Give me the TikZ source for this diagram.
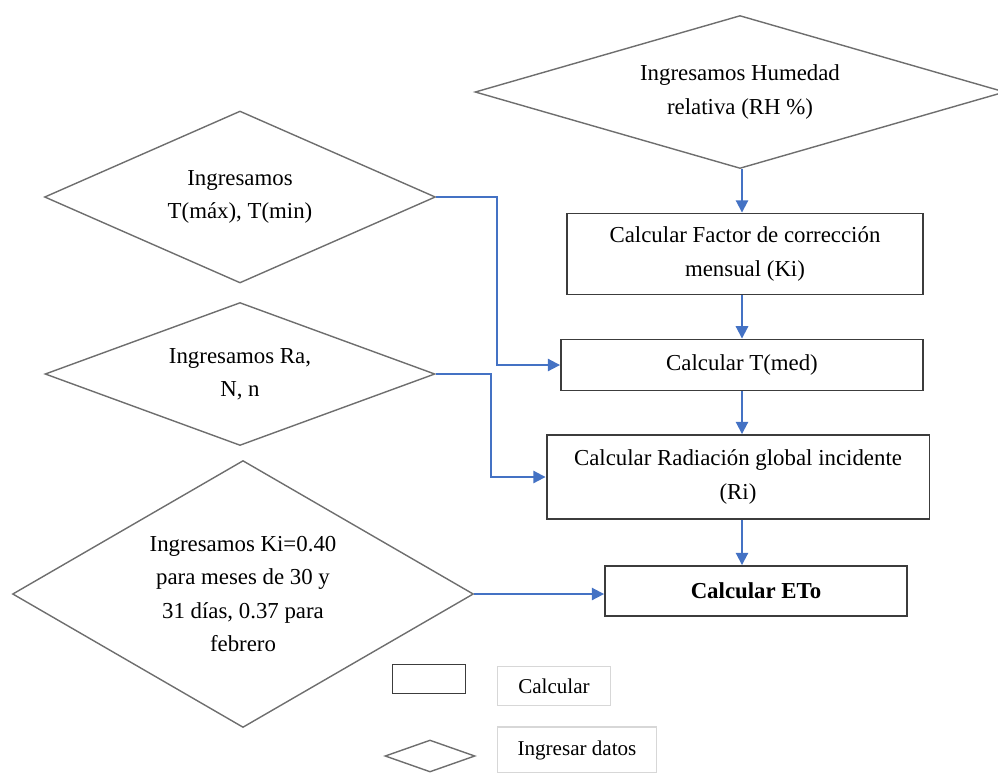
\documentclass[tikz,border=0pt]{standalone}
\usepackage{fontspec}
\setmainfont{Liberation Serif}
\usepackage{xcolor}
\usepackage{tikz}
\usetikzlibrary{arrows.meta, shapes.geometric, positioning}
\definecolor{flowblue}{RGB}{68, 114, 196}
\definecolor{boxgray}{RGB}{60, 60, 60}
\definecolor{diagray}{RGB}{110, 110, 110}
\definecolor{leggray}{RGB}{215, 215, 215}

\begin{document}
\begin{tikzpicture}[
    x=0.02cm, y=-0.02cm,
    box/.style    = {draw=boxgray, line width=1.1pt, align=center,
                     font=\fontsize{13}{19}\selectfont, inner sep=2pt},
    input/.style  = {diamond, draw=diagray, line width=0.8pt, align=center,
                     aspect=2.3, inner sep=0pt,
                     font=\fontsize{13}{19}\selectfont},
    legbox/.style = {draw=leggray, line width=0.8pt, align=center,
                     font=\fontsize{12}{15}\selectfont},
    arrow/.style  = {-{Triangle[length=7pt, width=7pt]}, line width=1.1pt, color=flowblue},
  ]
  \useasboundingbox (0,0) rectangle (998,772);

  % entradas
  \node[input, minimum width=10.6cm, minimum height=3.06cm] (hum) at (740,92)
    {Ingresamos Humedad\\relativa (RH \%)};
  \node[input, minimum width=7.82cm, minimum height=3.44cm] (tmax) at (240,197)
    {Ingresamos\\T(máx), T(min)};
  \node[input, minimum width=7.8cm, minimum height=2.86cm] (ra) at (240,374)
    {Ingresamos Ra,\\N, n};
  \node[input, minimum width=9.22cm, minimum height=5.34cm] (ki) at (243,594)
    {Ingresamos Ki=0.40\\para meses de 30 y\\31 días, 0.37 para\\febrero};

  % calculos
  \node[box, minimum width=7.12cm, minimum height=1.62cm] (fac) at (745,254)
    {Calcular Factor de corrección\\mensual (Ki)};
  \node[box, minimum width=7.24cm, minimum height=1.02cm] (tmed) at (742,365)
    {Calcular T(med)};
  \node[box, minimum width=7.66cm, minimum height=1.68cm] (radg) at (738,477)
    {Calcular Radiación global incidente\\(Ri)};
  \node[box, minimum width=6.04cm, minimum height=1cm] (eto) at (756,591)
    {\textbf{Calcular ETo}};

  % leyenda
  \node[box, minimum width=1.46cm, minimum height=0.58cm] (legcalc) at (429,679) {};
  \node[legbox, minimum width=2.26cm, minimum height=0.78cm] (txtcalc) at (554,686) {Calcular};
  \node[input, minimum width=1.8cm, minimum height=0.64cm] (legdat) at (430,756) {};
  \node[legbox, minimum width=3.18cm, minimum height=0.92cm] (txtdat) at (577,750) {Ingresar datos};

  \coordinate (axis) at (742,0);
  \coordinate (bendA) at (497,0);
  \coordinate (bendB) at (491,0);

  \draw[arrow] (hum.south -| axis) -- (fac.north -| axis);
  \draw[arrow] (fac.south -| axis) -- (tmed.north -| axis);
  \draw[arrow] (tmed.south -| axis) -- (radg.north -| axis);
  \draw[arrow] (radg.south -| axis) -- (eto.north -| axis);
  \draw[arrow] (tmax.east) -- (tmax.east -| bendA) -- (bendA |- tmed.west) -- (tmed.west);
  \draw[arrow] (ra.east) -- (ra.east -| bendB) -- (bendB |- radg.west) -- (radg.west);
  \draw[arrow] (ki.east) -- (ki.east -| eto.west);
\end{tikzpicture}
\end{document}
